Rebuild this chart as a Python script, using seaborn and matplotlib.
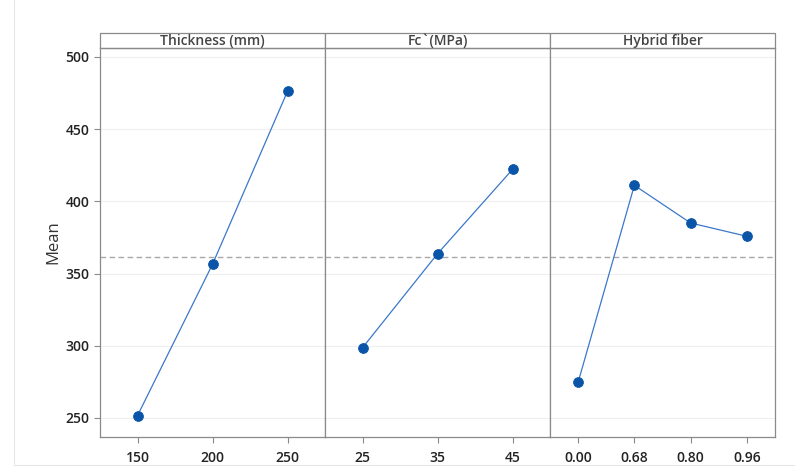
import numpy as np
import pandas as pd
import matplotlib
matplotlib.use('Agg')
import matplotlib.pyplot as plt
from matplotlib.patches import Rectangle
import seaborn as sns

sns.set_theme(style='white')
plt.rcParams['font.family'] = ['Open Sans', 'DejaVu Sans']

factors = ['Thickness (mm)', 'Fc`(MPa)', 'Hybrid fiber']
thickness_levels = ['150', '200', '250']
thickness_means = [251.6, 356.4, 476.2]
fc_levels = ['25', '35', '45']
fc_means = [298.6, 363.7, 422.1]
fiber_levels = ['0.00', '0.68', '0.80', '0.96']
fiber_means = [274.7, 411.1, 385.0, 375.8]

levels = [thickness_levels, fc_levels, fiber_levels]
means = [thickness_means, fc_means, fiber_means]
grand_mean = np.mean(thickness_means)

W, H = 795, 468
fig = plt.figure(figsize=(W / 100, H / 100), dpi=100)
left, right, bottom, top = 100 / W, 775 / W, 1 - 437 / H, 1 - 48 / H
pw = (right - left) / 3
strip_h = 15 / (437 - 48)

line_c = '#3b78c9'
mark_c = '#0a55a8'
frame_c = '#8a8a8a'
grid_c = '#efefef'

axes = []
for i, (name, lv, mv) in enumerate(zip(factors, levels, means)):
    ax = fig.add_axes([left + i * pw, bottom, pw, top - bottom])
    axes.append(ax)
    df = pd.DataFrame({'level': lv, 'mean': mv})
    ax.set_axisbelow(True)
    ax.grid(True, color=grid_c, linewidth=0.8)
    sns.pointplot(data=df, x='level', y='mean', order=lv, ax=ax,
                  color=line_c, markers='o', linestyles='-',
                  markersize=7, linewidth=0.9, errorbar=None)
    for c in ax.collections:
        c.set_facecolor(mark_c)
        c.set_edgecolor(mark_c)
    for ln in ax.lines:
        ln.set_markerfacecolor(mark_c)
        ln.set_markeredgecolor(mark_c)
        ln.set_zorder(3)
    ax.axhline(grand_mean, color='#a8a8a8', linestyle=(0, (4, 2.5)), linewidth=1.0, zorder=1)
    ax.set_xlim(-0.5, len(lv) - 0.5)
    ax.set_ylim(236.8, 506.2)
    ax.set_yticks([250, 300, 350, 400, 450, 500])
    ax.set_xlabel('')
    ax.set_ylabel('')
    for s in ax.spines.values():
        s.set_color(frame_c)
        s.set_linewidth(0.9)
    ax.tick_params(axis='x', length=4, width=0.8, color=frame_c, labelsize=10,
                   labelcolor='#222222', pad=6, bottom=True)
    for t in ax.get_xticklabels():
        t.set_fontweight('semibold')
    if i == 0:
        ax.tick_params(axis='y', length=4, width=0.8, color=frame_c, labelsize=10,
                       labelcolor='#222222', left=True)
        for t in ax.get_yticklabels():
            t.set_fontweight('semibold')
        ax.set_ylabel('Mean', fontsize=12, color='#333333', labelpad=3)
    else:
        ax.tick_params(axis='y', left=False, labelleft=False)
    ax.add_patch(Rectangle((0, 1), 1, strip_h, transform=ax.transAxes,
                           facecolor='white', edgecolor=frame_c, linewidth=0.9,
                           clip_on=False))
    ax.text(0.5, 1 + strip_h / 2, name, transform=ax.transAxes, ha='center',
            va='center', fontsize=10, fontweight='semibold', color='#444444')

fig.patches.append(Rectangle((14 / W, 3 / H), 1 - 14 / W, 1.2, transform=fig.transFigure,
                             facecolor='none', edgecolor='#e6e6e6', linewidth=0.8))

fig.savefig('out.png', dpi=100)
